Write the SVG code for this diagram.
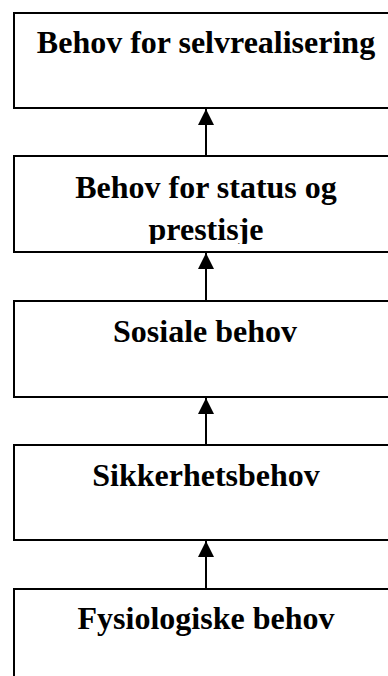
<svg xmlns="http://www.w3.org/2000/svg" width="388" height="676" viewBox="0 0 388 676">
<defs>
<style>
.box{fill:#fff;stroke:#000;stroke-width:2}
.t{font-family:"Liberation Serif","Times New Roman",serif;font-weight:bold;font-size:32px;fill:#000;text-anchor:middle}
.c{stroke:#000;stroke-width:2;fill:none}
</style>
<marker id="ah" markerUnits="userSpaceOnUse" markerWidth="16" markerHeight="16" viewBox="0 0 16 16" refX="16" refY="8" orient="auto">
<path d="M0,0 L16,8 L0,16 Z" fill="#000"/>
</marker>
<clipPath id="clip2"><rect x="15" y="157" width="380" height="87"/></clipPath>
</defs>
<rect width="388" height="676" fill="#fff"/>
<g id="n1">
<rect class="box" x="14" y="13" width="386" height="95"/>
<text class="t" x="206" y="53">Behov for selvrealisering</text>
</g>
<g id="n2">
<rect class="box" x="14" y="156" width="386" height="96"/>
<g clip-path="url(#clip2)">
<text class="t" x="206" y="198">Behov for status og</text>
<text class="t" x="206" y="240">prestisje</text>
</g>
</g>
<g id="n3">
<rect class="box" x="14" y="301" width="386" height="96"/>
<text class="t" x="205" y="342">Sosiale behov</text>
</g>
<g id="n4">
<rect class="box" x="14" y="445" width="386" height="95"/>
<text class="t" x="206" y="486">Sikkerhetsbehov</text>
</g>
<g id="n5">
<rect class="box" x="14" y="589" width="386" height="100"/>
<text class="t" x="206" y="629">Fysiologiske behov</text>
</g>
<g id="connectors">
<line class="c" x1="206" y1="156" x2="206" y2="109" marker-end="url(#ah)"/>
<line class="c" x1="206" y1="301" x2="206" y2="253" marker-end="url(#ah)"/>
<line class="c" x1="206" y1="445" x2="206" y2="398" marker-end="url(#ah)"/>
<line class="c" x1="206" y1="589" x2="206" y2="541" marker-end="url(#ah)"/>
</g>
</svg>
